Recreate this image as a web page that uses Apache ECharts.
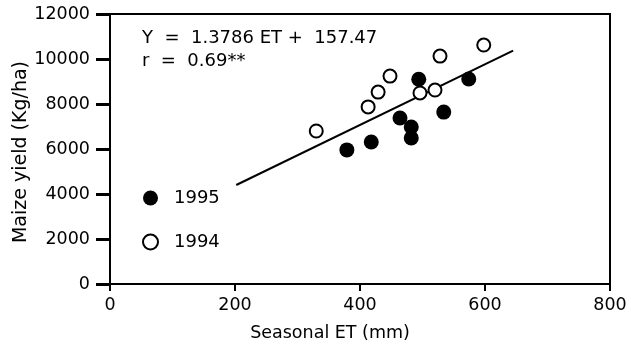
<!DOCTYPE html>
<html>
<head>
<meta charset="utf-8">
<script src="https://cdn.jsdelivr.net/npm/echarts@6/dist/echarts.min.js"></script>
<style>html,body{margin:0;padding:0;background:#fff;}#c{width:631px;height:346px;}</style>
</head>
<body>
<div id="c"></div>
<script>
const xTicks = [0, 200, 400, 600, 800];
const yTicks = [0, 2000, 4000, 6000, 8000, 10000, 12000];
const et1994 = [330, 413, 429, 448, 496, 520, 528, 598];
const yield1994 = [6800, 7870, 8530, 9240, 8490, 8620, 10130, 10620];
const et1995 = [379, 418, 464, 482, 482, 494, 534, 574];
const yield1995 = [5960, 6310, 7380, 6980, 6490, 9100, 7640, 9110];
const fitEt = [202, 645];
const fitYield = [4400, 10370];
const xTitle = 'Seasonal ET (mm)';
const yTitle = 'Maize yield (Kg/ha)';
const eqLine1 = 'Y  =  1.3786 ET +  157.47';
const eqLine2 = 'r  =  0.69**';

const FONT = 'DejaVu Sans';
const zip = (a, b) => a.map((v, i) => [v, b[i]]);
const chart = echarts.init(document.getElementById('c'), null, {renderer: 'canvas'});
chart.setOption({
  animation: false,
  backgroundColor: '#fff',
  grid: {left: 110, right: 21, top: 14, bottom: 62, show: true, borderColor: '#000', borderWidth: 2, backgroundColor: 'transparent'},
  xAxis: {
    type: 'value', min: xTicks[0], max: xTicks[xTicks.length - 1], interval: 200,
    splitLine: {show: false},
    axisLine: {lineStyle: {color: '#000', width: 2}},
    axisTick: {length: 7, lineStyle: {color: '#000', width: 2}},
    axisLabel: {color: '#000', fontFamily: FONT, fontSize: 17.5, margin: 12}
  },
  yAxis: {
    type: 'value', min: yTicks[0], max: yTicks[yTicks.length - 1], interval: 2000,
    splitLine: {show: false},
    axisLine: {lineStyle: {color: '#000', width: 2}},
    axisTick: {length: 14, lineStyle: {color: '#000', width: 3}},
    axisLabel: {color: '#000', fontFamily: FONT, fontSize: 17.5, margin: 20, formatter: v => String(v)}
  },
  legend: {
    orient: 'vertical', left: 142, top: 189, padding: 0, itemGap: 26, itemWidth: 15, itemHeight: 15,
    data: [{name: '1995', icon: 'circle'}, {name: '1994', icon: 'circle'}],
    textStyle: {color: '#000', fontFamily: FONT, fontSize: 18, lineHeight: 15, padding: [0, 0, 0, 11]}
  },
  series: [
    {
      type: 'line', data: zip(fitEt, fitYield), symbol: 'none',
      lineStyle: {color: '#000', width: 2}, silent: true, z: 1
    },
    {
      name: '1995', type: 'scatter', data: zip(et1995, yield1995), symbol: 'circle', symbolSize: 15,
      itemStyle: {color: '#000', opacity: 1}, z: 3
    },
    {
      name: '1994', type: 'scatter', data: zip(et1994, yield1994), symbol: 'circle', symbolSize: 13,
      itemStyle: {color: '#fff', borderColor: '#000', borderWidth: 2, opacity: 1}, z: 3
    }
  ],
  graphic: [
    {type: 'text', left: 142, top: 29, style: {text: eqLine1, fill: '#000', font: '18px "DejaVu Sans"'}},
    {type: 'text', left: 142, top: 52, style: {text: eqLine2, fill: '#000', font: '18px "DejaVu Sans"'}},
    {type: 'text', x: 330, y: 333, style: {text: xTitle, fill: '#000', font: '17.5px "DejaVu Sans"', align: 'center', verticalAlign: 'middle'}},
    {type: 'text', x: 21, y: 152, rotation: Math.PI / 2, style: {text: yTitle, fill: '#000', font: '19px "DejaVu Sans"', align: 'center', verticalAlign: 'middle'}}
  ]
});
</script>
</body>
</html>
